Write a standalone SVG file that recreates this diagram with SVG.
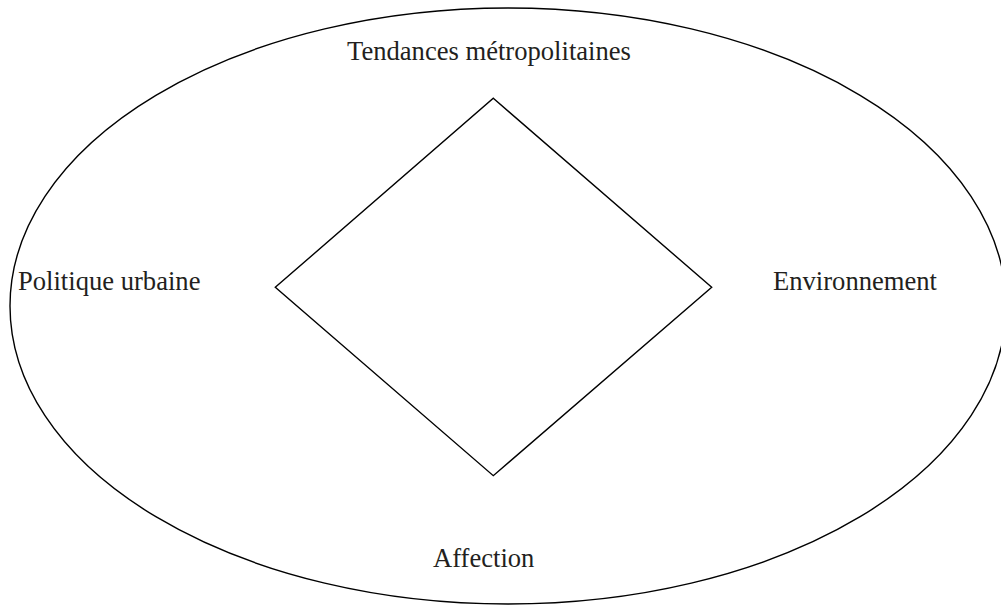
<svg xmlns="http://www.w3.org/2000/svg" width="1001" height="605" viewBox="0 0 1001 605">
<style>
.lbl{font-family:"Liberation Serif","Times New Roman",serif;font-size:26.6px;fill:#231f20;}
.shape{fill:none;stroke:#000;stroke-width:1.4;}
</style>
<rect width="1001" height="605" fill="#fff"/>
<g id="outer-ellipse"><ellipse class="shape" cx="508" cy="306" rx="498" ry="298"/></g>
<g id="center-diamond"><polygon class="shape" points="493.3,98.3 711.7,287.3 493.3,475.7 275.3,287.3"/></g>
<g id="connectors"></g>
<g id="node-tendances"><text class="lbl" x="347" y="60">Tendances métropolitaines</text></g>
<g id="node-politique"><text class="lbl" x="18" y="290">Politique urbaine</text></g>
<g id="node-environnement"><text class="lbl" x="773" y="290">Environnement</text></g>
<g id="node-affection"><text class="lbl" x="433" y="567">Affection</text></g>
</svg>
